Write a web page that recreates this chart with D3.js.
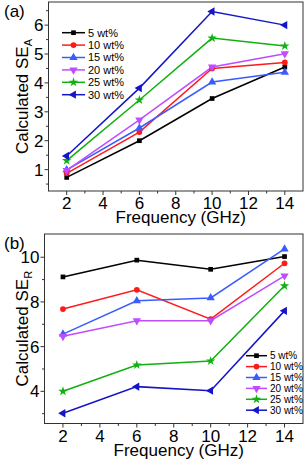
<!DOCTYPE html>
<html>
<head>
<meta charset="utf-8">
<script src="https://cdn.jsdelivr.net/npm/d3@7"></script>
<style>
  body { margin: 0; background: #fff; }
  svg text { font-family: Arial, "Liberation Sans", sans-serif; fill: #000; }
  .frame { fill: none; stroke: #333; stroke-width: 1; }
</style>
</head>
<body>
<div id="chart"></div>
<script>
"use strict";

// frequencies (GHz)
let freqs = [2, 6, 10, 14];
let seriesNames = ["5 wt%", "10 wt%", "15 wt%", "20 wt%", "25 wt%", "30 wt%"];
let seriesColors = ["#000000", "#ff1a1a", "#3a5cff", "#c04cff", "#10b010", "#1414c8"];

// calculated SE_A, one row per loading
let seA = [
  [0.73, 2.00, 3.46, 4.55],
  [0.87, 2.30, 4.50, 4.71],
  [0.99, 2.44, 4.03, 4.37],
  [0.97, 2.72, 4.55, 5.01],
  [1.31, 3.41, 5.55, 5.28],
  [1.47, 3.82, 6.47, 6.00]
];

// calculated SE_R
let seR = [
  [9.12, 9.87, 9.46, 10.03],
  [7.68, 8.54, 7.23, 9.73],
  [6.56, 8.05, 8.18, 10.37],
  [6.46, 7.16, 7.16, 9.17],
  [4.00, 5.18, 5.36, 8.72],
  [3.02, 4.21, 4.03, 7.60]
];

let xTicks = [2, 4, 6, 8, 10, 12, 14];
let xMinor = [3, 5, 7, 9, 11, 13];
let yTicksA = [1, 2, 3, 4, 5, 6];
let yMinorA = [0.5, 1.5, 2.5, 3.5, 4.5, 5.5, 6.5];
let yTicksR = [4, 6, 8, 10];
let yMinorR = [3, 5, 7, 9];

let W = 306, H = 465;

let svg = d3.select("#chart").append("svg")
  .attr("width", W)
  .attr("height", H);

let symbols = [
  d3.symbolSquare,
  d3.symbolCircle,
  d3.symbolTriangle,
  "down",
  d3.symbolStar,
  "left"
];

function markerPath(i) {
  let s = symbols[i];
  if (s === "down") {
    return { d: d3.symbol(d3.symbolTriangle, 30)(), rot: 180 };
  }
  if (s === "left") {
    return { d: d3.symbol(d3.symbolTriangle, 30)(), rot: -90 };
  }
  let size = s === d3.symbolStar ? 28 : (s === d3.symbolCircle ? 26 : (s === d3.symbolTriangle ? 30 : 22));
  return { d: d3.symbol(s, size)(), rot: 0 };
}

function drawPanel(opt) {
  let g = svg.append("g");

  let x = d3.scaleLinear().domain([1, 15]).range([opt.left, opt.right]);
  let y = d3.scaleLinear().domain(opt.yDomain).range([opt.bottom, opt.top]);

  // frame
  g.append("rect")
    .attr("class", "frame")
    .attr("x", opt.left)
    .attr("y", opt.top)
    .attr("width", opt.right - opt.left)
    .attr("height", opt.bottom - opt.top);

  // x axis ticks (outward)
  g.selectAll(".xt")
    .data(xTicks)
    .enter().append("line")
    .attr("x1", d => x(d)).attr("x2", d => x(d))
    .attr("y1", opt.bottom).attr("y2", opt.bottom + 4)
    .style("stroke", "#333");
  g.selectAll(".xm")
    .data(xMinor)
    .enter().append("line")
    .attr("x1", d => x(d)).attr("x2", d => x(d))
    .attr("y1", opt.bottom).attr("y2", opt.bottom + 2.5)
    .style("stroke", "#333");
  g.selectAll(".xl")
    .data(xTicks)
    .enter().append("text")
    .attr("x", d => x(d))
    .attr("y", opt.bottom + 18)
    .attr("text-anchor", "middle")
    .style("font-size", "17px")
    .text(d => d);

  // y axis ticks
  g.selectAll(".yt")
    .data(opt.yTicks)
    .enter().append("line")
    .attr("x1", opt.left - 4).attr("x2", opt.left)
    .attr("y1", d => y(d)).attr("y2", d => y(d))
    .style("stroke", "#333");
  g.selectAll(".ym")
    .data(opt.yMinor)
    .enter().append("line")
    .attr("x1", opt.left - 2.5).attr("x2", opt.left)
    .attr("y1", d => y(d)).attr("y2", d => y(d))
    .style("stroke", "#333");
  g.selectAll(".yl")
    .data(opt.yTicks)
    .enter().append("text")
    .attr("x", opt.left - 5)
    .attr("y", d => y(d) + 6)
    .attr("text-anchor", "end")
    .style("font-size", "17px")
    .text(d => d);

  // axis titles
  g.append("text")
    .attr("x", (opt.left + opt.right) / 2 + 5)
    .attr("y", opt.bottom + 32)
    .attr("text-anchor", "middle")
    .style("font-size", "17px")
    .text("Frequency (GHz)");

  let yl = g.append("text")
    .attr("transform", "translate(" + opt.yLabelX + "," + ((opt.top + opt.bottom) / 2) + ") rotate(-90)")
    .attr("text-anchor", "middle")
    .style("font-size", "17px");
  yl.append("tspan").text("Calculated SE");
  yl.append("tspan")
    .attr("dy", 4)
    .style("font-size", "11px")
    .text(opt.sub);

  g.append("text")
    .attr("x", 4)
    .attr("y", opt.top + 15)
    .style("font-size", "17px")
    .text(opt.tag);

  // series
  let line = d3.line()
    .x((d, i) => x(freqs[i]))
    .y(d => y(d));

  opt.data.forEach((vals, i) => {
    g.append("path")
      .datum(vals)
      .attr("d", line)
      .style("fill", "none")
      .style("stroke", seriesColors[i])
      .style("stroke-width", 1.5);
  });

  opt.data.forEach((vals, i) => {
    let m = markerPath(i);
    g.selectAll(".m" + i)
      .data(vals)
      .enter().append("path")
      .attr("d", m.d)
      .attr("transform", (d, j) => "translate(" + x(freqs[j]) + "," + y(d) + ") rotate(" + m.rot + ")")
      .style("fill", seriesColors[i]);
  });

  // legend
  let lg = g.append("g")
    .attr("transform", "translate(" + opt.legX + "," + opt.legY + ")");
  seriesNames.forEach((name, i) => {
    let row = lg.append("g").attr("transform", "translate(0," + (i * opt.legStep) + ")");
    row.append("line")
      .attr("x1", 0).attr("x2", opt.legLine)
      .attr("y1", 0).attr("y2", 0)
      .style("stroke", seriesColors[i])
      .style("stroke-width", 1.5);
    let m = markerPath(i);
    row.append("path")
      .attr("d", m.d)
      .attr("transform", "translate(" + (opt.legLine / 2) + ",0) rotate(" + m.rot + ")")
      .style("fill", seriesColors[i]);
    row.append("text")
      .attr("x", opt.legLine + 3)
      .attr("y", opt.legFont * 0.36)
      .style("font-size", opt.legFont + "px")
      .text(name);
  });
}

drawPanel({
  tag: "(a)",
  sub: "A",
  data: seA,
  left: 48.5, right: 303, top: 2, bottom: 191,
  yDomain: [0.26, 6.8],
  yTicks: yTicksA, yMinor: yMinorA,
  yLabelX: 28,
  legX: 62, legY: 32.7, legStep: 12.4, legLine: 23, legFont: 11
});

drawPanel({
  tag: "(b)",
  sub: "R",
  data: seR,
  left: 44.5, right: 303, top: 234, bottom: 423.5,
  yDomain: [2.56, 11.04],
  yTicks: yTicksR, yMinor: yMinorR,
  yLabelX: 28,
  legX: 246, legY: 355.7, legStep: 10.9, legLine: 21, legFont: 10
});
</script>
</body>
</html>
